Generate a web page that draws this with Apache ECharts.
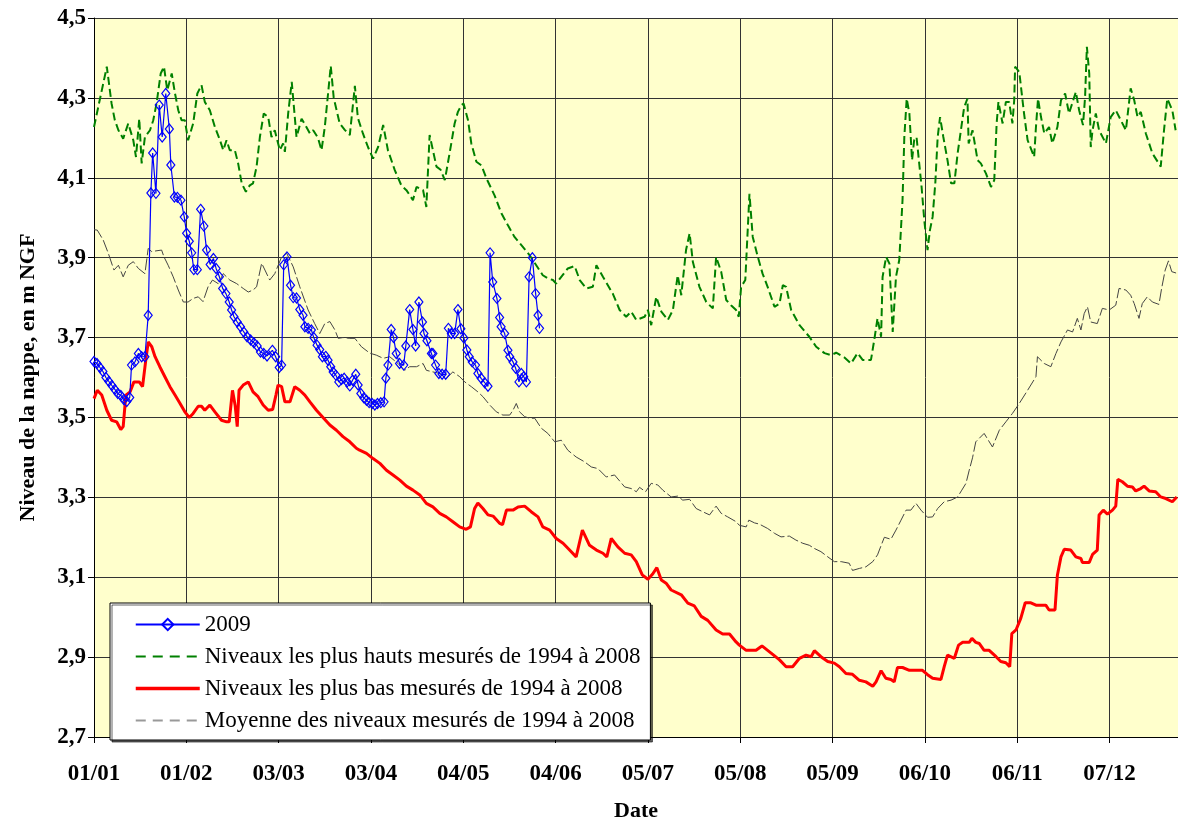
<!DOCTYPE html>
<html>
<head>
<meta charset="utf-8">
<script src="https://cdn.jsdelivr.net/npm/echarts@6/dist/echarts.min.js"></script>
<style>html,body{margin:0;padding:0;background:#fff}#c{width:1178px;height:827px}</style>
</head>
<body>
<div id="c"></div>
<script>
// x axis: day of year (0 = 01/01), ticks every 31 days
const tickLabels = ['01/01','01/02','03/03','03/04','04/05','04/06','05/07','05/08','05/09','06/10','06/11','07/12'];

const seriesNames = ['2009','Niveaux les plus hauts mesurés de 1994 à 2008','Niveaux les plus bas mesurés de 1994 à 2008','Moyenne des niveaux mesurés de 1994 à 2008'];

const blueDays = [0,1,2,3,4,5,6,7,8,9,10,11,12,12.6,13.75,14.9,16,17.1,18.2,19.1,19.7,20.8,21.9,22.9,24.1,25.3,25.8,27,28,29.2,30.3,31.1,32,32.8,33.5,34.7,35.8,36.9,37.8,39,40.1,41,42.1,43.2,44.3,45.4,46.2,47,48.1,49.2,50.3,51.4,52.6,53.7,54.8,55.9,57,58.1,59.9,61,62.2,63,63.7,64.8,66,66.9,68,69.1,70.2,70.8,71.9,73,73.8,74.9,75.8,76.7,77.8,78.6,79.5,80.3,81.2,82.2,83.1,84,85,85.9,86.8,87.9,88.7,89.6,90.6,91.5,92.4,93.4,94.3,95.2,96.3,97.4,98,98.7,99.8,100.6,101.5,102.6,104,104.7,106,107.1,108,109.1,110.3,110.8,111.8,113.3,113.8,114.7,115.8,116.9,118.1,119,120,121.1,122.2,123.2,124.2,125.2,126,127,128.1,128.9,130,131.2,132.3,133,133.9,135.3,136.2,136.7,137.9,139,139.6,140.7,141.6,142.7,143.5,144.3,145.2,146.1,147.2,148.3,149.1,149.6];
const blueLevels = [3.64,3.635,3.625,3.615,3.60,3.59,3.58,3.57,3.56,3.555,3.545,3.54,3.55,3.631,3.639,3.66,3.652,3.652,3.756,4.062,4.162,4.061,4.282,4.202,4.311,4.222,4.132,4.052,4.051,4.044,4.002,3.961,3.941,3.912,3.87,3.87,4.021,3.979,3.919,3.883,3.898,3.873,3.852,3.823,3.81,3.789,3.769,3.752,3.739,3.727,3.714,3.702,3.694,3.687,3.679,3.664,3.66,3.654,3.668,3.652,3.625,3.631,3.882,3.902,3.831,3.8,3.799,3.77,3.756,3.727,3.723,3.719,3.7,3.681,3.67,3.652,3.653,3.643,3.627,3.614,3.606,3.589,3.595,3.598,3.589,3.579,3.593,3.608,3.581,3.56,3.549,3.543,3.537,3.535,3.531,3.535,3.537,3.539,3.598,3.631,3.72,3.7,3.66,3.635,3.631,3.679,3.77,3.72,3.679,3.789,3.739,3.71,3.692,3.66,3.66,3.631,3.61,3.608,3.608,3.723,3.71,3.71,3.77,3.722,3.699,3.669,3.652,3.639,3.631,3.61,3.598,3.587,3.578,3.912,3.839,3.798,3.75,3.727,3.71,3.668,3.652,3.639,3.623,3.589,3.61,3.602,3.589,3.852,3.9,3.81,3.756,3.723];

const highDays = [0,4.3,5.9,7,8.2,9.8,11.5,13.2,14.1,15.2,16,17.1,18.8,19.9,21,22.4,23.5,24.6,26.1,27.2,28.3,29.4,30.5,31.6,33.3,34.7,36.1,37.2,38.9,40.6,42.3,43.4,44.5,45.6,47.3,48.4,49.6,51,52.3,53.4,54.6,55.7,57,58.5,59.6,60.7,62.4,63.5,64.1,65.2,66.4,68,69.7,71.1,72.5,73.6,75.2,76.4,77.5,79.5,80.5,82.5,84.2,85.9,87.6,88.6,90.3,92,93.7,95.4,97.1,98.7,101,103.2,104.9,107.1,108.3,110.5,111.6,112.7,113.8,115,116.4,117.8,119.4,121.1,122.2,123.4,124.1,125.6,126.7,128.4,130.1,131.8,134.5,136.8,139,141.2,144,146.3,148.5,150.7,152.4,154.1,155.2,156.9,159.1,161.4,163.1,165.3,167.5,168.7,170.9,174.2,176.5,178.7,180.4,182.1,184.9,186,187.1,188.8,190.5,192.7,194.4,196,197.2,198.8,200,201.1,203.3,205.6,207.8,208.9,210.6,212.3,213.9,215.6,216.5,217.3,218.7,220.1,221.2,222.9,224.5,226.2,228.5,230.2,231.3,232.4,234.1,236.9,240.2,242.5,245.3,247.5,249.2,252,254.2,256.4,258.1,260.9,262,263.1,264.3,264.8,266,267.1,268.2,269.3,270.4,271.5,272.1,272.9,273.8,274.7,275.4,276.2,277.1,277.9,278.8,279.9,280.7,281.6,282.5,283.3,284.1,285.2,286.6,287.8,288.9,290,291.1,292.2,293.3,293.7,295,296.7,297.8,299.5,301.2,302.3,303.1,303.7,305.1,306.2,307.3,308.4,309,309.3,310.7,312.3,313.5,315.7,316.3,317,318,319.1,320.7,321.8,323.5,324.7,326.1,327.4,329.7,330.8,332.1,332.8,333.4,334.2,334.7,335.3,336.4,337.5,339.8,341.4,343.1,344.8,346.5,348.1,349.3,350.4,351.5,353.2,355.4,358.2,359.3,360.4,362.1,363.2];
const highLevels = [4.227,4.378,4.286,4.244,4.219,4.198,4.236,4.194,4.152,4.248,4.136,4.202,4.219,4.244,4.286,4.361,4.378,4.319,4.361,4.311,4.269,4.244,4.244,4.194,4.236,4.311,4.332,4.29,4.269,4.227,4.194,4.169,4.194,4.169,4.169,4.136,4.086,4.065,4.081,4.086,4.128,4.202,4.261,4.252,4.202,4.219,4.169,4.186,4.165,4.261,4.34,4.202,4.248,4.23,4.211,4.219,4.2,4.169,4.227,4.38,4.3,4.236,4.22,4.207,4.33,4.25,4.211,4.177,4.148,4.177,4.232,4.169,4.119,4.081,4.069,4.044,4.077,4.069,4.027,4.207,4.169,4.128,4.12,4.094,4.161,4.236,4.265,4.282,4.286,4.244,4.186,4.14,4.131,4.098,4.056,4.011,3.981,3.952,3.927,3.906,3.881,3.856,3.848,3.844,3.835,3.852,3.873,3.879,3.844,3.823,3.827,3.881,3.852,3.81,3.769,3.752,3.765,3.744,3.752,3.769,3.731,3.802,3.765,3.744,3.769,3.856,3.806,3.919,3.961,3.889,3.827,3.789,3.773,3.902,3.865,3.794,3.781,3.769,3.752,3.827,3.844,4.06,3.952,3.902,3.86,3.827,3.777,3.785,3.831,3.827,3.769,3.731,3.702,3.677,3.661,3.656,3.662,3.65,3.635,3.661,3.644,3.644,3.694,3.748,3.702,3.852,3.902,3.885,3.714,3.852,3.894,4.044,4.202,4.298,4.261,4.144,4.194,4.202,4.136,4.077,3.994,3.919,3.969,4.002,4.086,4.202,4.252,4.202,4.144,4.086,4.086,4.161,4.219,4.277,4.298,4.186,4.219,4.144,4.136,4.111,4.077,4.094,4.236,4.29,4.236,4.29,4.29,4.236,4.294,4.378,4.365,4.261,4.194,4.152,4.227,4.298,4.252,4.211,4.227,4.186,4.227,4.294,4.311,4.261,4.315,4.269,4.232,4.302,4.428,4.361,4.177,4.219,4.261,4.219,4.186,4.252,4.269,4.244,4.219,4.324,4.294,4.252,4.265,4.211,4.161,4.128,4.219,4.298,4.269,4.219];

const lowDays = [0,1.1,2.6,4.3,5.9,7.6,9,9.8,10.7,12.1,13.4,15.2,16.3,17.4,18.2,19.4,20.5,22.1,23.8,25.5,27.2,28.9,30.5,32,33.3,35,36.1,37.2,38.9,40.6,42.8,44.5,45.4,46.5,47.4,48.1,48.7,50.1,51.8,53.4,55.1,56.8,58.5,60,61.1,61.8,63,64.1,65.8,67.4,69.1,70.8,72.5,74.7,76.9,79.2,81.4,83.6,85.9,88.1,89.2,91.5,93.7,96,98.2,100.4,102.7,104.9,107.1,109.4,111.6,113.8,116.1,118.3,120.5,122.8,125,126.4,127.8,128.9,130.6,132.3,134,136.2,137.2,138.5,140.7,142.4,144.6,146.8,149.1,150.7,153,155.2,157.5,159.7,161.9,164,166.4,168.7,170.9,172.2,173.7,175.9,178.2,180.4,182.1,184.1,186,187.6,189,190.5,192.1,193.8,197.2,199.4,201.6,203.9,206.1,208.9,211.1,213.4,215.6,216.7,219,222.3,224.3,226.2,227.9,230.2,232.4,234.6,236.9,239.1,240.8,241.9,244.1,246.4,248.6,250.3,252.5,254.7,257,259.2,261.5,262.6,264.3,265.9,267.6,268.7,269.8,271.5,273.8,278.2,279.9,281.6,284.4,285.5,286.6,288.9,290.3,291.7,293.9,294.8,296.1,297.3,298.9,300.6,302.9,304.5,306.2,307.5,308.2,309.6,311.2,312.7,314.6,316.3,319.6,320.7,322.7,323.5,324.7,325.8,328,329.7,331.4,331.9,334.2,335.3,336.9,337.5,338.9,340.3,342,343.1,343.8,345.3,347,348.7,349.8,351.5,352.6,354.3,356.5,358.2,359.9,362.1,363.6];
const lowLevels = [3.547,3.568,3.556,3.518,3.493,3.489,3.47,3.477,3.556,3.564,3.589,3.589,3.577,3.644,3.689,3.677,3.652,3.627,3.602,3.577,3.556,3.535,3.514,3.5,3.51,3.528,3.528,3.518,3.531,3.514,3.493,3.489,3.489,3.568,3.53,3.477,3.568,3.581,3.589,3.564,3.552,3.531,3.518,3.52,3.556,3.581,3.577,3.539,3.539,3.577,3.568,3.556,3.539,3.518,3.5,3.481,3.468,3.452,3.439,3.423,3.418,3.41,3.397,3.385,3.368,3.356,3.343,3.328,3.318,3.306,3.285,3.276,3.26,3.251,3.239,3.226,3.22,3.226,3.272,3.286,3.272,3.256,3.253,3.235,3.232,3.268,3.268,3.276,3.278,3.264,3.251,3.226,3.218,3.197,3.185,3.168,3.151,3.218,3.18,3.168,3.16,3.151,3.197,3.176,3.16,3.156,3.139,3.106,3.095,3.108,3.124,3.093,3.085,3.068,3.056,3.035,3.028,3.002,2.992,2.968,2.958,2.958,2.938,2.93,2.917,2.917,2.928,2.917,2.907,2.893,2.876,2.876,2.897,2.905,2.901,2.916,2.901,2.889,2.885,2.876,2.859,2.857,2.842,2.838,2.827,2.838,2.866,2.847,2.844,2.838,2.874,2.874,2.867,2.867,2.856,2.847,2.844,2.876,2.905,2.897,2.93,2.937,2.937,2.947,2.937,2.934,2.917,2.917,2.901,2.889,2.886,2.876,2.959,2.968,2.997,3.036,3.036,3.03,3.03,3.018,3.018,3.105,3.151,3.17,3.168,3.151,3.147,3.137,3.137,3.157,3.168,3.256,3.268,3.258,3.268,3.278,3.345,3.339,3.328,3.326,3.316,3.322,3.328,3.316,3.314,3.301,3.297,3.289,3.301];

const meanDays = [0,1.1,3.1,4.8,6.7,8.2,9.8,11.5,13.2,14.9,17.1,18.2,19.4,20.8,22.7,23.5,24.9,26.6,28.3,30,31.6,33.3,35,36.6,38.3,39.8,41.7,43.4,45.6,47.9,50.1,51.8,53.4,54.6,56.3,57.4,59,60.7,63,64.7,66.9,69.1,71.9,74.1,75.8,77.5,79.2,80.9,82,83.6,85.9,87.6,89.8,92.6,94.8,97.1,99.3,102.1,104.3,106,108.3,110.5,111.6,113.8,116.1,118.3,120.5,122.8,124.5,126.7,128.9,130.6,132.9,135.1,137.3,139.6,140.7,141.8,142.9,144.6,146.3,148,150.2,152.4,154.7,156.9,159.1,161.9,164.7,167,169.2,172,174.8,178.2,180.4,182.1,183.2,185.2,187.1,189.3,191,193.8,196,197.7,200,202.2,204.4,206.7,208.9,210.6,212.8,215.6,216.7,219,219.9,221.8,223.4,226.2,228.5,230.7,233.5,235.7,238,240.2,241.9,244.1,246.4,248.6,250.9,253.6,254.7,257,259.2,261.5,263.1,264.6,265.4,267.6,269.3,271,272.7,274.3,276,277.7,279.9,281.6,283.3,285.5,287.8,290,291.4,292.8,293.9,295,296.1,298.9,301.7,304,306.2,308.4,310.7,313.5,316.3,316.8,319.1,321.3,323,324.7,326.9,328.6,330.2,331.4,332.5,333.6,334.7,336.9,338.6,340.9,343.1,344.2,346.5,348.1,349.3,350.9,352,353.7,355.4,357.6,358.5,359.7,360.8,361.9,363.6];
const meanLevels = [3.97,3.969,3.944,3.911,3.869,3.881,3.852,3.881,3.89,3.873,3.86,3.923,3.915,3.917,3.919,3.902,3.881,3.852,3.819,3.789,3.789,3.798,3.802,3.79,3.827,3.844,3.835,3.86,3.844,3.835,3.823,3.814,3.819,3.827,3.886,3.869,3.844,3.86,3.902,3.911,3.877,3.827,3.769,3.735,3.71,3.735,3.74,3.719,3.698,3.7,3.698,3.698,3.677,3.661,3.656,3.648,3.652,3.635,3.618,3.627,3.627,3.635,3.618,3.614,3.61,3.598,3.614,3.602,3.589,3.577,3.564,3.552,3.531,3.514,3.506,3.506,3.518,3.535,3.514,3.502,3.498,3.498,3.473,3.46,3.439,3.443,3.418,3.401,3.389,3.376,3.372,3.351,3.356,3.326,3.322,3.314,3.325,3.314,3.335,3.331,3.318,3.301,3.303,3.293,3.295,3.272,3.264,3.256,3.278,3.26,3.251,3.239,3.23,3.226,3.243,3.236,3.233,3.222,3.21,3.201,3.203,3.193,3.185,3.18,3.172,3.164,3.151,3.139,3.139,3.135,3.117,3.122,3.126,3.139,3.156,3.185,3.2,3.195,3.218,3.243,3.268,3.268,3.285,3.268,3.25,3.251,3.272,3.289,3.293,3.301,3.318,3.335,3.368,3.399,3.439,3.46,3.426,3.468,3.489,3.51,3.535,3.568,3.602,3.652,3.635,3.627,3.66,3.689,3.719,3.714,3.748,3.719,3.76,3.777,3.739,3.735,3.773,3.769,3.781,3.823,3.819,3.806,3.785,3.748,3.785,3.802,3.789,3.783,3.823,3.869,3.892,3.865,3.861];

function pairs(xs, ys) { return xs.map((x, i) => [x, ys[i]]); }

const FONT = 'Liberation Serif';
const noSymbol = {color: 'rgba(0,0,0,0)', borderColor: 'rgba(0,0,0,0)', borderWidth: 0, opacity: 0};
const chart = echarts.init(document.getElementById('c'), null, {renderer: 'canvas'});
chart.setOption({
  animation: false,
  backgroundColor: '#ffffff',
  grid: {left: 94, right: 0, top: 18, bottom: 89, show: true, backgroundColor: '#FFFFCC', borderWidth: 0},
  xAxis: {
    type: 'value', min: 0, max: 364, interval: 31,
    name: 'Date', nameLocation: 'middle', nameGap: 63,
    nameTextStyle: {fontFamily: FONT, fontWeight: 'bold', fontSize: 22, color: '#000'},
    axisLine: {show: true, onZero: false, lineStyle: {color: '#000', width: 1}},
    axisTick: {show: true, length: 6, lineStyle: {color: '#000'}},
    axisLabel: {
      margin: 26, showMaxLabel: false,
      fontFamily: FONT, fontWeight: 'bold', fontSize: 23, color: '#000',
      formatter: v => tickLabels[Math.round(v / 31)] || ''
    },
    splitLine: {show: true, lineStyle: {color: '#333', width: 1}}
  },
  yAxis: {
    type: 'value', min: 2.7, max: 4.5, interval: 0.2,
    name: 'Niveau de la nappe, en m NGF', nameLocation: 'middle', nameGap: 55,
    nameTextStyle: {fontFamily: FONT, fontWeight: 'bold', fontSize: 22, color: '#000'},
    axisLine: {show: true, lineStyle: {color: '#000', width: 1}},
    axisTick: {show: true, length: 6, lineStyle: {color: '#000'}},
    axisLabel: {
      margin: 8, fontFamily: FONT, fontWeight: 'bold', fontSize: 23, color: '#000',
      formatter: v => v.toFixed(1).replace('.', ',')
    },
    splitLine: {show: true, lineStyle: {color: '#333', width: 1}}
  },
  legend: {
    orient: 'vertical', left: 110, top: 603,
    backgroundColor: '#ffffff', borderColor: '#000', borderWidth: 1,
    shadowColor: 'rgba(0,0,0,0.6)', shadowOffsetX: 2, shadowOffsetY: 2, shadowBlur: 0,
    padding: [10, 10, 8, 24], itemGap: 9, itemWidth: 64, itemHeight: 14,
    textStyle: {fontFamily: FONT, fontSize: 23, color: '#000'},
    data: [
      {name: seriesNames[0]},
      {name: seriesNames[1], itemStyle: noSymbol, lineStyle: {color: '#008000', type: [10, 7], width: 2}},
      {name: seriesNames[2], itemStyle: noSymbol, lineStyle: {color: '#FF0000', type: 'solid', width: 3.5}},
      {name: seriesNames[3], itemStyle: noSymbol, lineStyle: {color: '#999999', type: [10, 7], width: 2}}
    ]
  },
  series: [
    {
      name: seriesNames[1], type: 'line', data: pairs(highDays, highLevels), z: 3,
      showSymbol: false, symbol: 'none',
      lineStyle: {color: '#008000', width: 2, type: [8, 4]}, itemStyle: {color: '#008000'}
    },
    {
      name: seriesNames[3], type: 'line', data: pairs(meanDays, meanLevels), z: 2,
      showSymbol: false, symbol: 'none',
      lineStyle: {color: '#444444', width: 1, type: [12, 3]}, itemStyle: {color: '#444444'}
    },
    {
      name: seriesNames[2], type: 'line', data: pairs(lowDays, lowLevels), z: 4,
      showSymbol: false, symbol: 'none',
      lineStyle: {color: '#FF0000', width: 3}, itemStyle: {color: '#FF0000'}
    },
    {
      name: seriesNames[0], type: 'line', data: pairs(blueDays, blueLevels), z: 5,
      symbol: 'diamond', symbolSize: [8, 10],
      lineStyle: {color: '#0000FF', width: 1.2},
      itemStyle: {color: 'rgba(0,0,0,0)', borderColor: '#0000FF', borderWidth: 1.2}
    }
  ]
});
</script>
</body>
</html>
